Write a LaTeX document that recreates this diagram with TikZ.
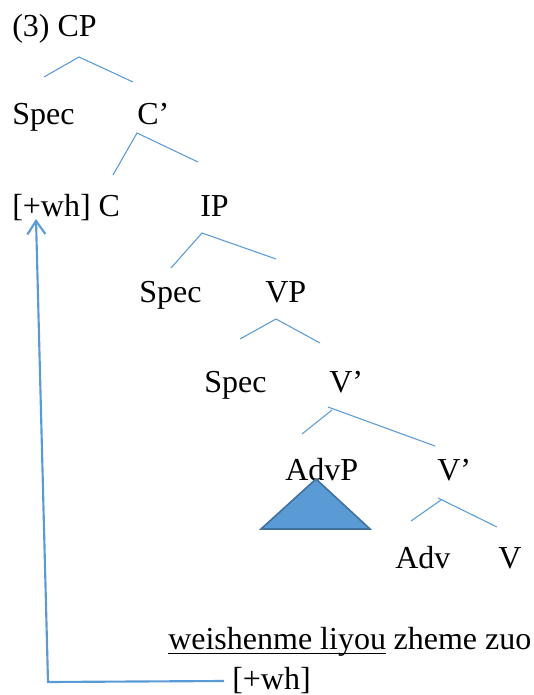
\documentclass[tikz,border=0pt]{standalone}
\usepackage{fontspec}
\setmainfont{Liberation Serif}
\usetikzlibrary{arrows.meta}
\definecolor{treeblue}{HTML}{5B9BD5}
\definecolor{triedge}{HTML}{41719C}
\tikzset{
  lbl/.style={anchor=base west, inner sep=0pt, font=\fontsize{24}{28}\selectfont},
  branch/.style={draw=treeblue, line width=0.8pt},
  movearrow/.style={draw=treeblue, line width=1.6pt, -{Straight Barb[length=10pt,width=13.5pt,line width=1.6pt]}},
}
\begin{document}
\begin{tikzpicture}[x=0.75pt,y=-0.75pt]
\useasboundingbox (0,0) rectangle (534,695);
% labels
\node[lbl] (cp) at (12,37) {(3) CP};
\node[lbl] (spec1) at (12,125) {Spec};
\node[lbl] (cbar) at (137,125) {C’};
\node[lbl] (c) at (12,216) {[+wh] C};
\node[lbl] (ip) at (200,216) {IP};
\node[lbl] (spec2) at (139,302) {Spec};
\node[lbl] (vp) at (265,302) {VP};
\node[lbl] (spec3) at (204,392) {Spec};
\node[lbl] (vbar1) at (329,392) {V’};
\node[lbl] (advp) at (285,480) {AdvP};
\node[lbl] (vbar2) at (437,480) {V’};
\node[lbl] (adv) at (395,568) {Adv};
\node[lbl] (v) at (498,568) {V};
\node[lbl] (w1) at (168,649) {weishenme liyou};
\node[lbl, anchor=base west] (w2) at ([xshift=5.3pt]w1.base east) {zheme zuo};
\node[lbl] (wh) at (232,689) {[+wh]};
% underline
\draw[line width=1.3pt] ([yshift=-3.4pt]w1.base west) -- ([yshift=-3.4pt]w1.base east);
% branch coordinates
\coordinate (a1) at (79,57); \coordinate (a1l) at (44,77); \coordinate (a1r) at (133,82);
\coordinate (a2) at (137,133); \coordinate (a2l) at (113,175); \coordinate (a2r) at (198,162);
\coordinate (a3) at (202,233); \coordinate (a3l) at (171,268); \coordinate (a3r) at (276,259);
\coordinate (a4) at (276,319); \coordinate (a4l) at (240,339); \coordinate (a4r) at (320,343);
\foreach \n in {1,...,4}{
  \draw[branch] (a\n l) -- (a\n) -- (a\n r);
}
\coordinate (b5l) at (302,434); \coordinate (b5t) at (332,410);
\coordinate (c5t) at (328,407); \coordinate (c5r) at (435,446);
\draw[branch] (b5l) -- (b5t);
\draw[branch] (c5t) -- (c5r);
\coordinate (b6l) at (411,521); \coordinate (b6t) at (441,500);
\coordinate (c6t) at (438,498); \coordinate (c6r) at (497,527);
\draw[branch] (b6l) -- (b6t);
\draw[branch] (c6t) -- (c6r);
% triangle
\coordinate (tt) at (316,479); \coordinate (tl) at (261,529); \coordinate (tr) at (370,529);
\filldraw[fill=treeblue, draw=triedge, line width=1.2pt, line join=miter] (tt) -- (tl) -- (tr) -- cycle;
% movement arrow
\coordinate (m1) at (224,681);
\coordinate (m2) at (48,682);
\coordinate (m3) at (36,219);
\draw[movearrow] (m1) -- (m2) -- (m3);
\end{tikzpicture}
\end{document}
